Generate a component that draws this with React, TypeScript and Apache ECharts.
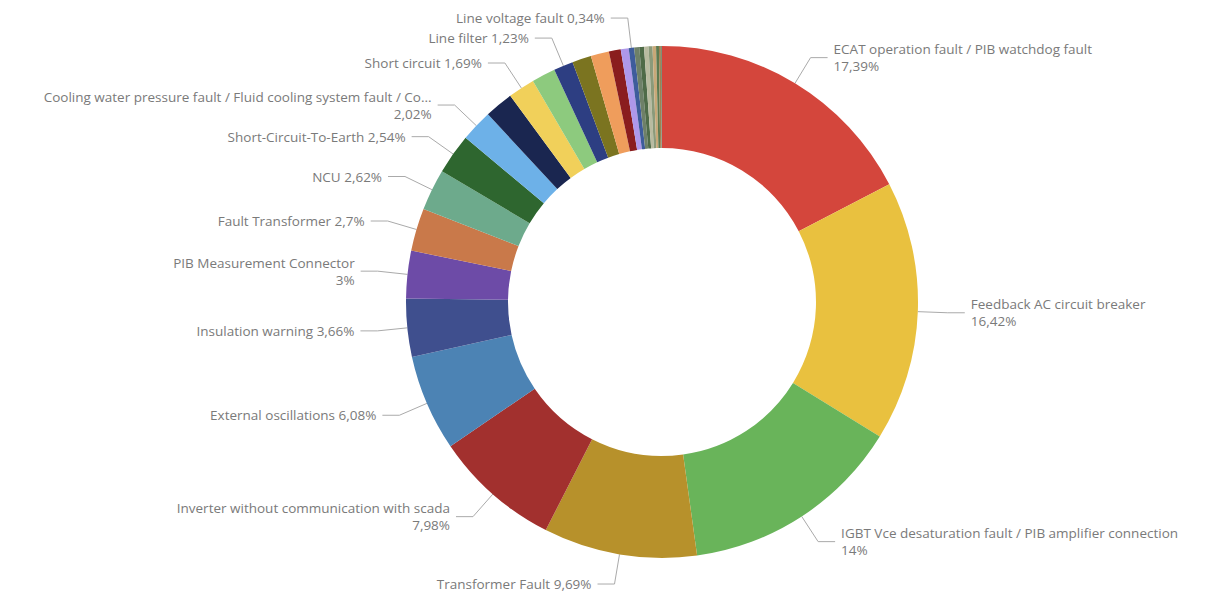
import React, { useEffect, useRef } from "react";
import * as echarts from "echarts";

const categories = [
  "ECAT operation fault / PIB watchdog fault",
  "Feedback AC circuit breaker",
  "IGBT Vce desaturation fault / PIB amplifier connection",
  "Transformer Fault",
  "Inverter without communication with scada",
  "External oscillations",
  "Insulation warning",
  "PIB Measurement Connector",
  "Fault Transformer",
  "NCU",
  "Short-Circuit-To-Earth",
  "Cooling water pressure fault / Fluid cooling system fault / Co...",
  "Other fault A",
  "Short circuit",
  "Other fault B",
  "Line filter",
  "Other fault C",
  "Other fault D",
  "Other fault E",
  "Other fault F",
  "Line voltage fault",
  "Other fault G",
  "Other fault H",
  "Other fault I",
  "Other fault J",
  "Other fault K",
  "Other fault L",
  "Other fault M",
  "Other fault N",
];

const values = [
  17.39, 16.42, 14, 9.69, 7.98, 6.08, 3.66, 3, 2.7, 2.62, 2.54, 2.02, 1.8, 1.69,
  1.5, 1.23, 1.2, 1.15, 0.75, 0.5, 0.34, 0.32, 0.3, 0.28, 0.25, 0.22, 0.18, 0.12,
  0.07,
];

const percentLabels = [
  "17,39%", "16,42%", "14%", "9,69%", "7,98%", "6,08%", "3,66%", "3%", "2,7%",
  "2,62%", "2,54%", "2,02%", "", "1,69%", "", "1,23%", "", "", "", "", "0,34%",
  "", "", "", "", "", "", "", "",
];

const colors = [
  "#D4463C", "#E9C13F", "#69B45A", "#B7912B", "#A2302E", "#4C83B4", "#3F4F8E",
  "#6D4BA7", "#C9794A", "#6DAA8C", "#2E662F", "#6DB1E8", "#1A2650", "#F1D05A",
  "#8DCA7E", "#2D3E82", "#7B7420", "#EF9D5C", "#8A1D1E", "#AE98EA", "#3E5C9C",
  "#6E8068", "#4F6B48", "#B9BBA0", "#8B9A7A", "#C8A878", "#5D7A50", "#A08050",
  "#7F8F78",
];

export default function App() {
  const ref = useRef<HTMLDivElement>(null);
  useEffect(() => {
    if (!ref.current) return;
    const chart = echarts.init(ref.current, undefined, { renderer: "svg" });
    const data = categories.map((name, i) => {
      const show = percentLabels[i] !== "";
      return {
        name,
        value: values[i],
        itemStyle: { color: colors[i] },
        label: { show },
        labelLine: { show },
      };
    });
    chart.setOption({
      animation: false,
      backgroundColor: "#ffffff",
      series: [
        {
          type: "pie",
          center: [662, 302],
          radius: [154, 256],
          startAngle: 90,
          clockwise: true,
          avoidLabelOverlap: true,
          itemStyle: { borderWidth: 0 },
          emphasis: { disabled: true },
          label: {
            position: "outside",
            color: "#7a7a7a",
            fontSize: 13.5,
            fontFamily: "Open Sans",
            lineHeight: 17,
            distanceToLabelLine: 6,
            formatter: (p: any) => {
              const pct = percentLabels[p.dataIndex];
              return p.name.length >= 25 ? `${p.name}\n${pct}` : `${p.name} ${pct}`;
            },
          },
          labelLine: {
            length: 30,
            length2: 17,
            lineStyle: { color: "#aaaaaa", width: 1 },
          },
          data,
        },
      ],
    });
    return () => chart.dispose();
  }, []);
  return (
    <div
      ref={ref}
      style={{ position: "fixed", left: 0, top: 0, width: 1207, height: 598 }}
    />
  );
}
